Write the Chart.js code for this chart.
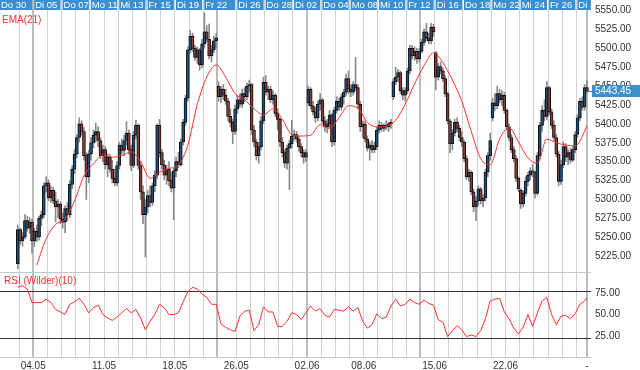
<!DOCTYPE html>
<html>
<head>
<meta charset="utf-8">
<script src="https://cdn.jsdelivr.net/npm/chart.js@4.4.1/dist/chart.umd.min.js"></script>
<style>
  html, body { margin: 0; padding: 0; background: #fff; }
  #wrap { width: 640px; height: 370px; }
</style>
</head>
<body>
<div id="wrap"><canvas id="chart"></canvas></div>
<script>
// trading days shown, and how many candles each one has on screen
const dayLabels = ['Do 30', 'Mo 04', 'Di 05', 'Mi 06', 'Do 07', 'Fr 08', 'Mo 11', 'Di 12', 'Mi 13', 'Do 14',
  'Fr 15', 'Mo 18', 'Di 19', 'Mi 20', 'Fr 22', 'Mo 25', 'Di 26', 'Mi 27', 'Do 28', 'Fr 29',
  'Di 02', 'Mi 03', 'Do 04', 'Fr 05', 'Mo 08', 'Di 09', 'Mi 10', 'Do 11', 'Fr 12', 'Mo 15',
  'Di 16', 'Mi 17', 'Do 18', 'Fr 19', 'Mo 22', 'Di 23', 'Mi 24', 'Do 25', 'Fr 26', 'Mo 29', 'Di 30']
const dayCandles = [1, 6, 6, 6, 6, 6, 6, 6, 6, 6,
  6, 6, 6, 6, 6, 8, 6, 6, 6, 6,
  6, 6, 6, 6, 6, 6, 6, 6, 6, 6,
  6, 6, 6, 6, 6, 6, 6, 6, 6, 6, 5]

// bottom axis labels and the day they sit on
const weekLabels = ['04.05', '11.05', '18.05', '26.05', '02.06', '08.06', '15.06', '22.06']
const weekLabelDays = [2, 7, 12, 16, 21, 25, 30, 35]
const heavyDays = [2, 15, 21, 29]

const opens = [
  5215,
  5260, 5245, 5250, 5272, 5262, 5270,
  5245, 5258, 5250, 5275, 5280, 5318,
  5322, 5302, 5312, 5298, 5290, 5294,
  5274, 5270, 5288, 5280, 5320, 5340,
  5360, 5382, 5400, 5390, 5358, 5330,
  5360, 5375, 5385, 5390, 5378, 5358,
  5366, 5346, 5356, 5340, 5328, 5322,
  5345, 5372, 5365, 5378, 5388, 5366,
  5345, 5385, 5398, 5345, 5310, 5280,
  5290, 5305, 5296, 5318, 5332, 5398,
  5362, 5346, 5332, 5340, 5325, 5315,
  5338, 5350, 5346, 5376, 5402, 5434,
  5498, 5516, 5500, 5488, 5498, 5478,
  5506, 5522, 5512, 5490, 5498, 5510,
  5450, 5436, 5446, 5438, 5430, 5410, 5402, 5390,
  5420, 5432, 5426, 5440, 5436, 5450,
  5452, 5392, 5376, 5358, 5370, 5404,
  5455, 5442, 5446, 5432, 5438, 5414,
  5406, 5376, 5362, 5348, 5368, 5374,
  5384, 5386, 5380, 5370, 5362, 5356,
  5428, 5446, 5424, 5416, 5408, 5426,
  5432, 5404, 5396, 5400, 5412, 5376,
  5418, 5430, 5422, 5436, 5442, 5460,
  5446, 5442, 5452, 5448, 5426, 5396,
  5400, 5380, 5368, 5372, 5366, 5370,
  5392, 5398, 5394, 5398, 5396, 5400,
  5436, 5456, 5462, 5468, 5444, 5438,
  5444, 5470, 5500, 5490, 5496, 5486,
  5496, 5508, 5522, 5514, 5510, 5528,
  5494, 5462, 5476, 5470, 5460, 5440,
  5404, 5374, 5388, 5402, 5394, 5382,
  5376, 5354, 5330, 5336, 5310, 5290,
  5298, 5314, 5298, 5302, 5336, 5358,
  5408, 5428, 5424, 5440, 5432, 5438,
  5418, 5396, 5382, 5366, 5354, 5328,
  5312, 5294, 5308, 5324, 5332, 5338,
  5336, 5308, 5358, 5398, 5418, 5410,
  5448, 5416, 5398, 5382, 5360, 5324,
  5346, 5370, 5356, 5362, 5352, 5366,
  5386, 5408, 5430, 5422, 5448
]
const highs = [
  5266,
  5262, 5256, 5280, 5278, 5276, 5274,
  5262, 5266, 5278, 5285, 5322, 5330,
  5326, 5318, 5316, 5310, 5300, 5297,
  5282, 5292, 5296, 5325, 5345, 5366,
  5386, 5408, 5404, 5395, 5362, 5365,
  5382, 5392, 5401, 5396, 5382, 5372,
  5370, 5360, 5360, 5352, 5340, 5350,
  5376, 5380, 5385, 5403, 5392, 5372,
  5390, 5405, 5400, 5350, 5318, 5300,
  5312, 5318, 5322, 5338, 5400, 5406,
  5366, 5352, 5345, 5350, 5336, 5342,
  5356, 5362, 5380, 5406, 5438, 5502,
  5524, 5520, 5504, 5502, 5500, 5512,
  5547, 5530, 5532, 5504, 5516, 5520,
  5456, 5450, 5452, 5446, 5434, 5420, 5406, 5425,
  5438, 5440, 5446, 5448, 5454, 5458,
  5454, 5398, 5380, 5376, 5410, 5462,
  5464, 5450, 5450, 5444, 5440, 5420,
  5408, 5382, 5366, 5372, 5378, 5405,
  5392, 5390, 5384, 5374, 5366, 5366,
  5450, 5448, 5430, 5422, 5430, 5440,
  5434, 5410, 5406, 5418, 5414, 5422,
  5436, 5434, 5440, 5446, 5466, 5470,
  5452, 5456, 5488, 5452, 5430, 5404,
  5404, 5384, 5376, 5378, 5376, 5396,
  5404, 5402, 5400, 5404, 5402, 5406,
  5460, 5475, 5472, 5470, 5448, 5448,
  5474, 5504, 5504, 5502, 5500, 5500,
  5512, 5526, 5533, 5520, 5533, 5532,
  5496, 5480, 5482, 5474, 5464, 5442,
  5406, 5392, 5406, 5408, 5398, 5390,
  5378, 5358, 5340, 5338, 5314, 5304,
  5318, 5316, 5306, 5340, 5362, 5388,
  5434, 5440, 5450, 5446, 5444, 5442,
  5420, 5400, 5386, 5370, 5358, 5330,
  5314, 5312, 5330, 5336, 5342, 5346,
  5338, 5362, 5402, 5424, 5432, 5456,
  5450, 5420, 5404, 5386, 5364, 5352,
  5376, 5374, 5366, 5368, 5370, 5390,
  5412, 5434, 5436, 5452, 5458
]
const lows = [
  5208,
  5240, 5238, 5248, 5258, 5255, 5229,
  5238, 5244, 5246, 5265, 5276, 5310,
  5298, 5296, 5294, 5270, 5276, 5268,
  5262, 5256, 5272, 5276, 5314, 5334,
  5355, 5376, 5385, 5352, 5300, 5322,
  5352, 5368, 5376, 5370, 5354, 5350,
  5340, 5330, 5336, 5322, 5318, 5318,
  5340, 5360, 5358, 5372, 5360, 5338,
  5342, 5380, 5340, 5300, 5268, 5224,
  5282, 5290, 5292, 5310, 5328, 5356,
  5340, 5326, 5320, 5318, 5310, 5273,
  5330, 5342, 5344, 5372, 5398, 5430,
  5494, 5496, 5484, 5480, 5471, 5474,
  5500, 5508, 5486, 5482, 5494, 5500,
  5430, 5428, 5432, 5426, 5404, 5396, 5374, 5386,
  5414, 5422, 5422, 5430, 5432, 5442,
  5386, 5370, 5352, 5348, 5366, 5400,
  5438, 5432, 5428, 5426, 5410, 5392,
  5370, 5356, 5342, 5340, 5313, 5368,
  5378, 5376, 5364, 5356, 5348, 5350,
  5424, 5420, 5412, 5402, 5404, 5418,
  5400, 5390, 5388, 5394, 5370, 5372,
  5414, 5418, 5418, 5426, 5438, 5440,
  5436, 5438, 5444, 5420, 5390, 5382,
  5376, 5364, 5352, 5362, 5362, 5366,
  5388, 5390, 5390, 5392, 5390, 5394,
  5432, 5452, 5456, 5440, 5432, 5430,
  5440, 5466, 5486, 5484, 5480, 5482,
  5494, 5504, 5510, 5506, 5506, 5516,
  5445, 5458, 5466, 5456, 5436, 5400,
  5362, 5366, 5384, 5390, 5378, 5370,
  5350, 5326, 5324, 5306, 5284, 5272,
  5292, 5294, 5290, 5298, 5330, 5352,
  5404, 5418, 5420, 5428, 5424, 5414,
  5392, 5378, 5362, 5350, 5324, 5310,
  5288, 5290, 5304, 5318, 5326, 5330,
  5302, 5306, 5354, 5390, 5404, 5406,
  5412, 5394, 5378, 5356, 5318, 5320,
  5342, 5350, 5346, 5348, 5350, 5362,
  5382, 5404, 5418, 5418, 5440
]
const closes = [
  5260,
  5245, 5250, 5272, 5262, 5270, 5245,
  5258, 5250, 5275, 5280, 5318, 5322,
  5302, 5312, 5298, 5290, 5294, 5274,
  5270, 5288, 5280, 5320, 5340, 5360,
  5382, 5400, 5390, 5358, 5330, 5360,
  5375, 5385, 5390, 5378, 5358, 5366,
  5346, 5356, 5340, 5328, 5322, 5345,
  5372, 5365, 5378, 5388, 5366, 5345,
  5385, 5398, 5345, 5310, 5280, 5290,
  5305, 5296, 5318, 5332, 5398, 5362,
  5346, 5332, 5340, 5325, 5315, 5338,
  5350, 5346, 5376, 5402, 5434, 5498,
  5516, 5500, 5488, 5498, 5478, 5506,
  5522, 5512, 5490, 5498, 5510, 5514,
  5436, 5446, 5438, 5430, 5410, 5402, 5390, 5420,
  5432, 5426, 5440, 5436, 5450, 5452,
  5392, 5376, 5358, 5370, 5404, 5455,
  5442, 5446, 5432, 5438, 5414, 5406,
  5376, 5362, 5348, 5368, 5374, 5384,
  5386, 5380, 5370, 5362, 5356, 5362,
  5446, 5424, 5416, 5408, 5426, 5432,
  5404, 5396, 5400, 5412, 5376, 5418,
  5430, 5422, 5436, 5442, 5460, 5446,
  5442, 5452, 5448, 5426, 5396, 5400,
  5380, 5368, 5372, 5366, 5370, 5392,
  5398, 5394, 5398, 5396, 5400, 5402,
  5456, 5462, 5468, 5444, 5438, 5444,
  5470, 5500, 5490, 5496, 5486, 5496,
  5508, 5522, 5514, 5510, 5528, 5522,
  5462, 5476, 5470, 5460, 5440, 5404,
  5374, 5388, 5402, 5394, 5382, 5376,
  5354, 5330, 5336, 5310, 5290, 5298,
  5314, 5298, 5302, 5336, 5358, 5378,
  5428, 5424, 5440, 5432, 5438, 5418,
  5396, 5382, 5366, 5354, 5328, 5314,
  5294, 5308, 5324, 5332, 5338, 5336,
  5308, 5358, 5398, 5418, 5410, 5448,
  5416, 5398, 5382, 5360, 5324, 5346,
  5370, 5356, 5362, 5352, 5366, 5386,
  5408, 5430, 5422, 5448, 5443.45
]

// EMA(21), read every 4th candle from candle 8 on (last value = last candle)
const emaStart = 8
const emaStep = 4
const emaValues = [5213, 5248, 5267, 5274, 5298, 5331, 5347, 5359, 5356, 5358,
  5363, 5350, 5328, 5336, 5341, 5346, 5372, 5426, 5462, 5478,
  5462, 5440, 5432, 5420, 5412, 5420, 5406, 5386, 5384, 5385,
  5399, 5394, 5408, 5424, 5421, 5402, 5396, 5397, 5405, 5426,
  5453, 5477, 5494, 5481, 5458, 5430, 5390, 5354, 5346, 5380,
  5395, 5376, 5355, 5348, 5380, 5375, 5372, 5371, 5390, 5398]

// RSI (Wilder)(10), read every 2nd candle (last value = last candle)
const rsiStart = 0
const rsiStep = 2
const rsiValues = [82, 84, 80, 64, 64, 64, 68, 64, 56, 53,
  50, 62, 65, 69, 62, 52, 58, 61, 50, 46,
  43, 47, 52, 57, 52, 56, 46, 32, 42, 50,
  62, 58, 50, 50, 52, 65, 77, 82, 80, 74,
  70, 62, 62, 39, 35, 32, 30, 48, 54, 55,
  31, 38, 59, 53, 53, 36, 36, 42, 52, 50,
  44, 52, 60, 54, 57, 49, 47, 56, 55, 54,
  59, 54, 58, 42, 34, 38, 51, 45, 47, 60,
  68, 60, 62, 68, 64, 62, 67, 63, 61, 44,
  41, 24, 31, 37, 32, 24, 26, 24, 31, 45,
  66, 68, 69, 53, 45, 34, 27, 35, 50, 36,
  52, 66, 70, 50, 38, 48, 49, 45, 51, 62,
  66, 70]

const priceTicks = [5225, 5250, 5275, 5300, 5325, 5350, 5375, 5400, 5425, 5450, 5475, 5500, 5525, 5550]
const rsiTicks = [25, 50, 75]
const rsiBands = [78, 22]
const lastPrice = 5443.45

const N = closes.length
const dayStart = []
dayCandles.reduce((acc, n, d) => { dayStart[d] = acc; return acc + n }, 0)

const gridSlots = dayStart.slice(1).concat([N - 0.5])
const heavySlots = heavyDays.map(d => dayStart[d]).concat([N - 0.5])
const tickText = {}
weekLabelDays.forEach((d, k) => { tickText[dayStart[d]] = weekLabels[k] })
tickText[N - 0.5] = '-'

const UP = '#1d4e77'
const DOWN = '#8e3b33'
const BLUE = '#3b8fcf'
const RED = '#ff2f2f'

const sparse = (vals, start, step) => vals.map((v, k) => ({ x: Math.min(start + k * step, N - 1) + 0.5, y: v }))

const decor = {
  id: 'decor',
  beforeDatasetsDraw(chart) {
    const { ctx, chartArea: a, scales: { y2 } } = chart
    ctx.save()
    ctx.lineWidth = 1
    ctx.strokeStyle = '#c8c8c8'
    ;[y2.top, y2.bottom].forEach(py => {
      const yy = Math.round(py) + 0.5
      ctx.beginPath(); ctx.moveTo(a.left, yy); ctx.lineTo(a.right, yy); ctx.stroke()
    })
    ctx.strokeStyle = '#333'
    rsiBands.forEach(v => {
      const yy = Math.round(y2.getPixelForValue(v)) + 0.5
      ctx.beginPath(); ctx.moveTo(a.left, yy); ctx.lineTo(a.right, yy); ctx.stroke()
    })
    ctx.restore()
  },
  afterDraw(chart) {
    const { ctx, chartArea: a, scales: { x, y } } = chart
    ctx.save()
    ctx.textBaseline = 'middle'
    // date strip on top
    ctx.font = '9.5px "Liberation Sans", Arial, sans-serif'
    for (let d = 0; d < dayLabels.length; d += 2) {
      const x0 = d === 0 ? a.left : x.getPixelForValue(dayStart[d]) + 1
      const x1 = d + 2 < dayLabels.length ? x.getPixelForValue(dayStart[d + 2]) - 1 : a.right
      if (x1 <= x0) continue
      ctx.fillStyle = BLUE
      ctx.fillRect(x0, 0, x1 - x0, 10)
      ctx.save()
      ctx.beginPath(); ctx.rect(x0, 0, x1 - x0, 10); ctx.clip()
      ctx.fillStyle = '#fff'
      ctx.fillText(dayLabels[d], x0 + 1, 5.5)
      ctx.restore()
    }
    // indicator names
    ctx.font = '10px "Liberation Sans", Arial, sans-serif'
    ctx.fillStyle = RED
    ctx.fillText('EMA(21)', 2, 20.5)
    ctx.fillText('RSI (Wilder)(10)', 4, 281.5)
    // last price marker
    const py = Math.round(y.getPixelForValue(lastPrice))
    ctx.fillStyle = BLUE
    ctx.fillRect(a.right + 1, py - 6, chart.width - a.right - 1, 12)
    ctx.fillRect(a.right - 3, py, 4, 1)
    ctx.fillStyle = '#fff'
    ctx.fillText(lastPrice.toFixed(2), a.right + 4, py + 0.5)
    ctx.restore()
  }
}

const noPad = scale => { scale.paddingTop = 0; scale.paddingBottom = 0; scale.paddingLeft = 0; scale.paddingRight = 0 }

Chart.defaults.font.family = '"Liberation Sans", Arial, sans-serif'
Chart.defaults.font.size = 10
Chart.defaults.color = '#333'

const config = {
  type: 'bar',
  data: {
    datasets: [
      {
        type: 'line',
        data: sparse(emaValues, emaStart, emaStep),
        yAxisID: 'y',
        borderColor: RED,
        borderWidth: 1,
        pointRadius: 0,
        cubicInterpolationMode: 'monotone',
        order: 0
      },
      {
        type: 'line',
        data: sparse(rsiValues, rsiStart, rsiStep),
        yAxisID: 'y2',
        borderColor: RED,
        borderWidth: 1,
        pointRadius: 0,
        tension: 0,
        order: 0
      },
      {
        data: closes.map((c, i) => ({ x: i + 0.5, y: [opens[i], c] })),
        yAxisID: 'y',
        backgroundColor: closes.map((c, i) => (c >= opens[i] ? UP : DOWN)),
        borderColor: '#111',
        borderWidth: 1,
        borderSkipped: false,
        barThickness: 3,
        minBarLength: 1,
        grouped: false,
        order: 1
      },
      {
        data: closes.map((c, i) => ({ x: i + 0.5, y: [lows[i], highs[i]] })),
        yAxisID: 'y',
        backgroundColor: '#8a8a8a',
        barThickness: 1,
        grouped: false,
        order: 2
      }
    ]
  },
  options: {
    responsive: true,
    maintainAspectRatio: false,
    animation: false,
    layout: { padding: 0 },
    scales: {
      x: {
        type: 'linear',
        position: 'bottom',
        min: -7.05,
        max: 243.2,
        offset: false,
        border: { display: false },
        grid: {
          offset: false,
          drawTicks: false,
          color: ctx => (heavySlots.includes(ctx.tick && ctx.tick.value) ? '#bcbcbc' : '#d2d2d2'),
          lineWidth: ctx => (heavySlots.includes(ctx.tick && ctx.tick.value) ? 2 : 1)
        },
        ticks: {
          autoSkip: false,
          maxRotation: 0,
          padding: 3,
          callback: v => (tickText[v] !== undefined ? tickText[v] : '')
        },
        afterBuildTicks: scale => { scale.ticks = gridSlots.map(v => ({ value: v })) },
        afterFit: scale => { noPad(scale); scale.height = 13 }
      },
      y: {
        type: 'linear',
        position: 'right',
        stack: 'panels',
        stackWeight: 272,
        min: 5204,
        max: 5564,
        border: { display: false },
        grid: { display: false, drawTicks: false },
        ticks: { padding: 4, autoSkip: false, callback: v => v.toFixed(2) },
        afterBuildTicks: scale => { scale.ticks = priceTicks.map(v => ({ value: v })) },
        afterFit: scale => { noPad(scale); scale.width = 49 }
      },
      y2: {
        type: 'linear',
        position: 'right',
        stack: 'panels',
        stackWeight: 85,
        min: 0,
        max: 100,
        border: { display: false },
        grid: { display: false, drawTicks: false },
        ticks: { padding: 4, autoSkip: false, callback: v => v.toFixed(2) },
        afterBuildTicks: scale => { scale.ticks = rsiTicks.map(v => ({ value: v })) },
        afterFit: scale => { noPad(scale); scale.width = 49 }
      }
    },
    plugins: {
      legend: { display: false },
      tooltip: { enabled: false }
    }
  },
  plugins: [decor]
}

new Chart(document.getElementById('chart'), config)
</script>
</body>
</html>
